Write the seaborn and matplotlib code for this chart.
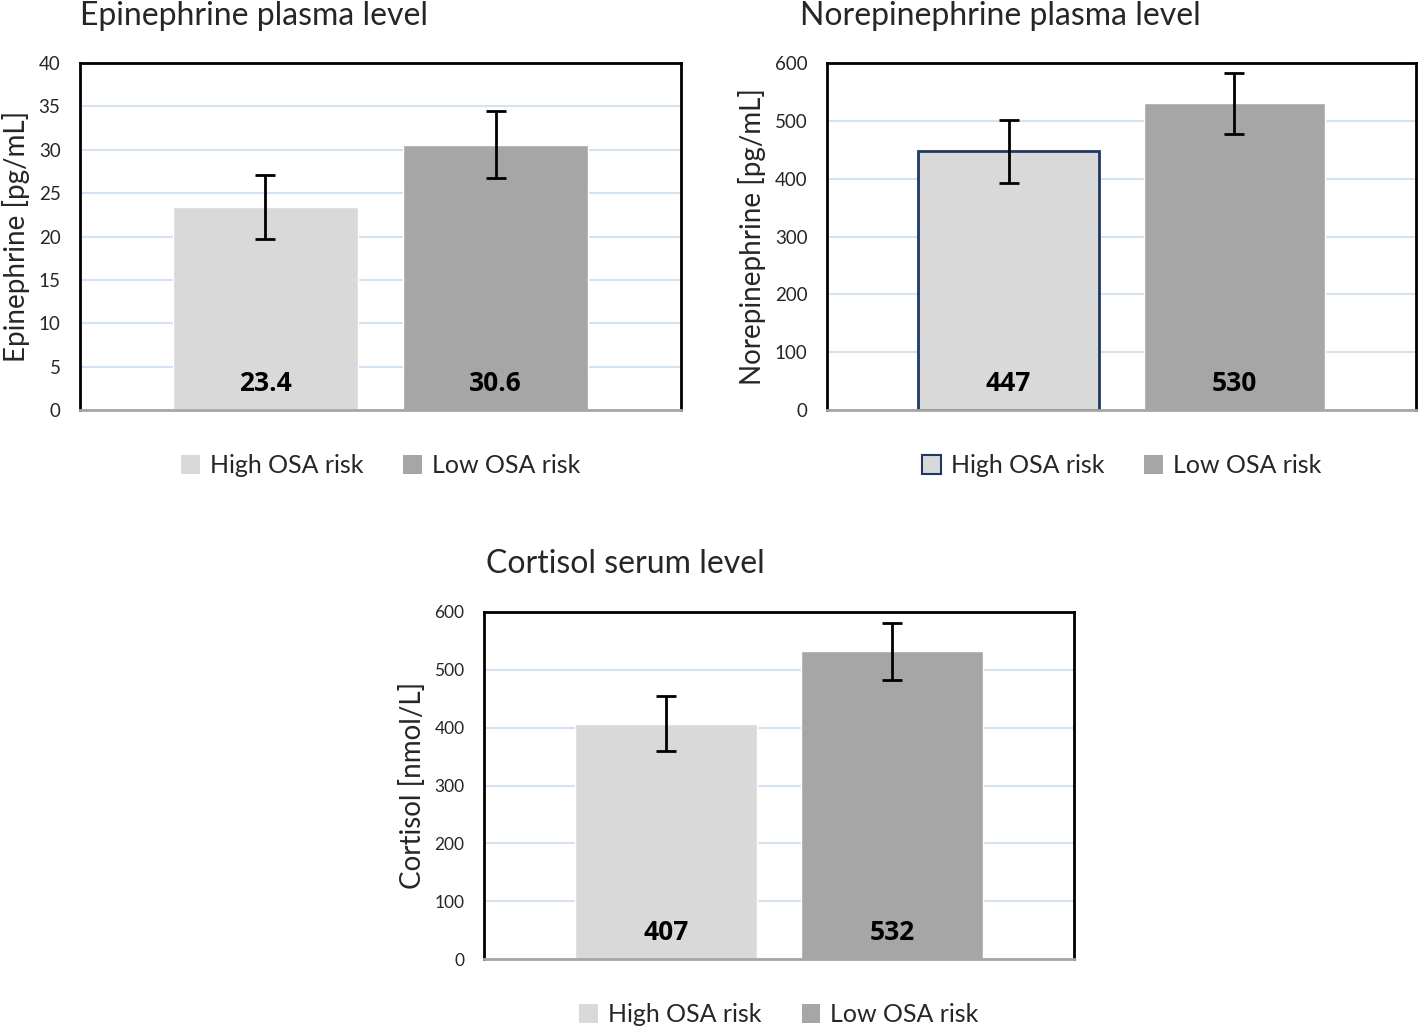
import numpy as np
import pandas as pd
import matplotlib.pyplot as plt
import seaborn as sns
from matplotlib.patches import Patch

sns.set_style("white")
plt.rcParams['font.family'] = ['Lato', 'DejaVu Sans']

groups = ["High OSA risk", "Low OSA risk"]

epi_mean = [23.4, 30.6]
epi_err = [3.7, 3.9]

norepi_mean = [447, 530]
norepi_err = [55, 53]

cort_mean = [407, 532]
cort_err = [47, 49]

bar_colors = ["#d9d9d9", "#a6a6a6"]
grid_col = "#d5e2f3"

W, H = 1419, 1029
fig = plt.figure(figsize=(W / 100, H / 100), dpi=100)


def px_axes(left, top, right, bottom):
    return fig.add_axes([left / W, 1 - bottom / H, (right - left) / W, (bottom - top) / H])


def draw_panel(ax, means, errs, ymax, ystep, ylabel, tick_fs, edge_first=None):
    df = pd.DataFrame({"group": groups, "value": means})
    sns.barplot(data=df, x="group", y="value", hue="group", palette=bar_colors,
                width=0.805, ax=ax, legend=False, saturation=1)
    if edge_first is not None:
        ax.patches[0].set_edgecolor(edge_first)
        ax.patches[0].set_linewidth(2)
    xs = np.arange(len(groups))
    ax.errorbar(xs, means, yerr=errs, fmt="none", ecolor="black",
                elinewidth=2, capsize=7, capthick=2, zorder=5)
    for x, v in zip(xs, means):
        ax.text(x, 0.077, f"{v:g}", transform=ax.get_xaxis_transform(),
                ha="center", va="center", fontsize=19, fontweight="bold",
                family=["Open Sans", "DejaVu Sans"], color="black")
    ax.set_ylim(0, ymax)
    ax.set_xlim(-0.805, 1.805)
    ax.set_yticks(np.arange(0, ymax + ystep / 2, ystep))
    ax.yaxis.grid(True, color=grid_col, lw=1.5)
    ax.set_axisbelow(True)
    ax.set_xticks([])
    ax.set_xlabel("")
    ax.set_ylabel(ylabel, fontsize=20, labelpad=6)
    ax.tick_params(axis="y", length=0, pad=14, labelsize=tick_fs)
    for s in ["left", "top", "right"]:
        ax.spines[s].set_color("black")
        ax.spines[s].set_linewidth(2)
    ax.spines["bottom"].set_color("#a6a6a6")
    ax.spines["bottom"].set_linewidth(2)
    handles = [Patch(facecolor=bar_colors[0], edgecolor=edge_first if edge_first else bar_colors[0],
                     linewidth=1.5 if edge_first else 0),
               Patch(facecolor=bar_colors[1], edgecolor=bar_colors[1], linewidth=0)]
    ax.legend(handles, groups, loc="center", bbox_to_anchor=(0.5, -0.161), ncol=2,
              frameon=False, fontsize=18, handlelength=0.75, handleheight=0.75,
              handletextpad=0.4, columnspacing=1.6)


ax1 = px_axes(80, 63, 681, 410)
draw_panel(ax1, epi_mean, epi_err, 40, 5, "Epinephrine [pg/mL]", 13.5)

ax2 = px_axes(827, 63, 1416, 410)
draw_panel(ax2, norepi_mean, norepi_err, 600, 100, "Norepinephrine [pg/mL]", 13.5, edge_first="#1f3864")

ax3 = px_axes(484, 612, 1074, 959)
draw_panel(ax3, cort_mean, cort_err, 600, 100, "Cortisol [nmol/L]", 12.5)

fig.text(80 / W, 1 - 25 / H, "Epinephrine plasma level", fontsize=23, va="baseline", ha="left")
fig.text(800 / W, 1 - 25 / H, "Norepinephrine plasma level", fontsize=23, va="baseline", ha="left")
fig.text(486 / W, 1 - 573 / H, "Cortisol serum level", fontsize=23, va="baseline", ha="left")

fig.savefig("out.png", dpi=100, facecolor="white")
